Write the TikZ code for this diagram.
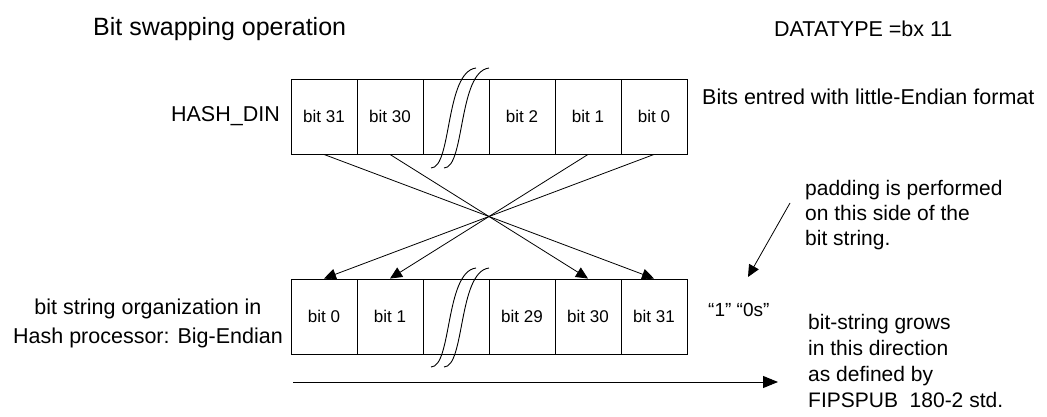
\documentclass[tikz,border=0pt]{standalone}
\usepackage{fontspec}
\setmainfont{Liberation Sans}
\usetikzlibrary{arrows.meta}
\begin{document}
\begin{tikzpicture}[x=1pt,y=-1pt,
  cell/.style={draw,line width=0.9pt,minimum width=66pt,minimum height=75pt,inner sep=0,font=\fontsize{17}{20}\selectfont},
  lbl/.style={inner sep=0,font=\fontsize{21.5}{26}\selectfont},
  conn/.style={line width=0.8pt,-{Triangle[length=12pt,width=11pt]}},
  brk/.style={line width=0.9pt}]
\useasboundingbox (0,0) rectangle (1047,417);
\node[lbl,anchor=west,font=\fontsize{25}{30}\selectfont] (title) at (93,29) {Bit swapping operation};
\node[lbl,anchor=west] (dt) at (774,29) {DATATYPE =bx 11};
% rows
\foreach \i/\t in {0/bit 31,1/bit 30,2/,3/bit 2,4/bit 1,5/bit 0}
  \node[cell] (t\i) at ({324+66*\i},116.5) {\t};
\foreach \i/\t in {0/bit 0,1/bit 1,2/,3/bit 29,4/bit 30,5/bit 31}
  \node[cell] (b\i) at ({324+66*\i},316.5) {\t};
% break symbols
\draw[brk] (431,168) .. controls (452,168) and (445,72) .. (476,68);
\draw[brk] (444,168) .. controls (465,168) and (458,72) .. (489,68);
\draw[brk] (431,367) .. controls (452,367) and (445,272) .. (476,268);
\draw[brk] (444,367) .. controls (465,367) and (458,272) .. (489,268);
\node[lbl,anchor=east] (hd) at (280,116) {HASH\_DIN};
\node[lbl,anchor=west] (be) at (702,97) {Bits entred with little-Endian format};
% connectors
\draw[conn] (t0.south) -- (b5.north);
\draw[conn] (t1.south) -- (b4.north);
\draw[conn] (t4.south) -- (b1.north);
\draw[conn] (t5.south) -- (b0.north);
\node[lbl,anchor=north west,align=left,font=\fontsize{21}{25}\selectfont] (pad) at (805,180) {padding is performed\\on this side of the\\bit string.};
\coordinate (pa) at (790,203);
\coordinate (pb) at (748,277);
\draw[line width=0.8pt,-{Triangle[length=12pt,width=11pt]}] (pa) -- (pb);
\node[lbl,anchor=west,font=\fontsize{19}{22}\selectfont] (ones) at (708,310) {“1” “0s”};
\node[lbl,align=center,anchor=east,font=\fontsize{21.5}{29}\selectfont] (org) at (283,323) {bit string organization in\\Hash processor: Big-Endian};
\node[lbl,anchor=north west,align=left,font=\fontsize{21}{26}\selectfont] (grow) at (808,314) {bit-string grows\\in this direction\\as defined by\\FIPSPUB\ \ 180-2 std.};
\coordinate (ga) at (293,382);
\coordinate (gb) at (778,382);
\draw[line width=1pt,-{Triangle[length=15pt,width=12pt]}] (ga) -- (gb);
\end{tikzpicture}
\end{document}
